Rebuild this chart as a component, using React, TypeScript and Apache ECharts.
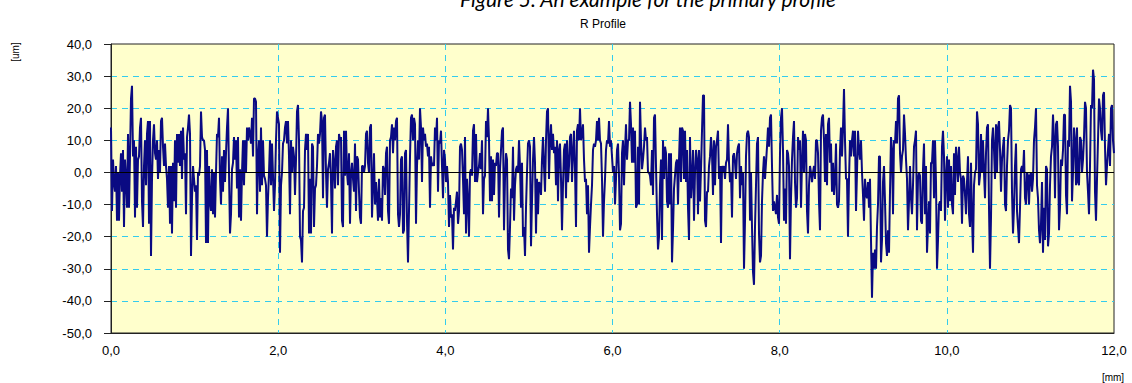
import React, { useEffect, useRef } from "react";
import * as echarts from "echarts";

const SEG_A = [14,-12,4,-3,-6,2,-15,0,-15,-1,6,-6,7,-17,4,-2,-11,12,-11,5,23,27,5,10,-14,8,-11,4,5,14,17,-9,-17,2,10,-4,12,16,-16,16,-26,-2,10,15,6,4,10,-2,7,0,16,17,8,2,9,2,-2,-11,2,-16,2,-19,3,-9,10,-11,12,3,12,2,13,-2,14,4,6,-13,11,14,18,12,-26,-8,2,-2];
const SEG_B = [-6,-4,-21,0,-1,2,19,11,10,10,7,-22,7,-22,2,-9,-12,1,-13,0,-14,0,12,11,17,-2,-10,5,-6,7,-3,6,14,20,0,-19,-13,1,3,11,4,10,-5,11,-14,1,-15,0,10,-4,10,0,14,10,14,12,9,17,5,23,23,22,-13,5,10,-6,14,-4,10,-1,-2,-4,-20,-8,0,10,-4,9,-1,-12,-4,10,19,17,15,-25,-4,0,9,10];
const SEG_C = [14,16,9,16,5,-13,10,0,8,5,-7,4,19,21,10,-20,-21,-28,-12,-11,7,12,7,12,-19,-2,-19,9,8,-17,-5,-4,2,12,9,12,19,16,-8,17,18,0,-11,1,3,6,-3,-19,7,3,-5,8,10,-4,12,10,11,-15,-17,13,-1,13,0,-4,6,-16,0,3,-2,-6,9,-12,5,4,-6,-14,-16,2,2,0,2,12,13,3,0,14,15,-14,-4,6];
const SEG_D = [-10,-3,-8,-15,-2,-14,-8,-15,2,1,-7,6,8,-12,-16,10,11,15,6,14,10,16,17,-13,-17,-13,4,5,-19,-18,6,7,-15,-28,-12,5,17,18,10,17,15,-16,2,10,4,20,14,-3,14,10,12,8,9,5,8,-11,5,2,3,2,14,10,17,-6,10,9,13,2,-8,7,4,-3,2,-3,-17,-7,-14,-13,-24,-11,-12,-9,-6,-16,-12,8,9,7,-2,-13];
const SEG_E = [11,-19,-2,-9,-20,0,1,-1,13,15,-3,12,-3,0,2,6,1,10,-13,-2,-1,16,11,20,10,-9,5,-9,4,-7,3,2,6,6,-14,1,7,13,14,-18,-2,6,4,-24,-27,-17,-5,-8,8,-15,-4,1,2,0,10,2,-11,3,-20,-17,-26,-11,0,9,10,8,-23,-9,4,11,3,-19,-2,-13,-3,-4,-7,4,11,2,-6,10,19,20,-2,10,15,7,12,6];
const SEG_F = [8,-4,10,-9,7,9,-2,-18,-4,7,9,-8,10,-3,2,11,12,-3,6,13,1,-17,13,15,10,20,10,12,15,4,-3,-2,-13,-4,-25,-17,-10,-4,7,9,8,10,16,10,17,10,9,-2,-20,-9,-2,7,10,9,16,8,10,5,0,2,-10,-2,7,9,-1,-18,-16,6,10,-4,7,15,4,10,10,22,15,3,14,3,13,-11,-10,8,-10,22,10,1,4,8];
const SEG_G = [14,10,11,0,0,-1,-4,7,-7,17,18,2,-13,-24,-20,-4,4,-21,10,-2,8,6,-9,-11,6,-10,6,-28,-18,-5,-1,3,4,-10,4,14,-3,14,13,-2,13,-3,7,-11,-21,11,-8,-2,7,-15,0,7,4,-13,7,-9,1,13,24,24,-15,-17,-6,-6,2,5,11,6,-7,10,-4,8,10,13,-2,2,-22,2,0,2,-2,3,4,15,3,-3,0,-14,5,6];
const SEG_H = [3,-2,6,8,9,-8,2,-4,0,-30,-15,5,12,13,11,-15,0,-17,-31,-35,-17,-4,9,11,-19,-28,-26,-9,0,5,-2,3,8,14,8,17,18,2,-12,-9,-11,-13,-7,-14,-16,6,17,20,7,-15,-5,-16,7,6,2,-27,-8,4,11,16,-3,-11,-8,11,7,10,-11,3,13,0,12,10,-12,-19,-4,2,0,-3,0,2,-2,10,10,6,-9,-18,13,17,18,10];
const SEG_I = [-3,12,-4,15,17,3,9,-6,3,-7,-2,9,-10,-11,-9,7,14,5,14,26,10,-2,-2,-20,-2,10,5,10,13,5,13,-12,0,13,7,4,10,0,-7,-15,-2,-7,-8,-3,-11,-2,-21,-39,-25,-30,-24,-30,-17,-10,5,5,-28,-21,-3,2,-9,-22,-26,-18,-25,-6,11,7,-13,10,9,16,9,23,24,6,0,5,7,18,12,4,-2,-18,-9,2,-8,-13,-4,8];
const SEG_J = [10,13,-18,-2,0,-1,-15,-16,1,9,-13,2,-25,-17,-9,-19,3,3,10,-8,10,-3,-30,-21,-10,-9,-12,8,13,5,-15,-1,5,-11,4,-9,2,-10,-13,6,-7,8,4,-3,8,0,-2,-16,-1,-2,-7,-13,-3,5,-13,-17,3,-14,-25,-4,0,1,19,15,-4,-1,12,0,10,0,-8,6,14,15,-11,-30,-14,10,14,7,-2,15,0,14,16,7,-6,4,8,11];
const SEG_K = [-10,-12,2,10,13,21,20,-6,-19,-11,2,9,-12,-17,-22,-11,1,2,0,7,-8,-10,0,-1,-10,-1,0,-6,-2,10,14,20,-4,-8,-18,-22,-16,-3,-25,-11,-21,2,1,-23,-19,-4,5,8,18,10,-8,15,16,8,-18,-11,4,2,7,18,18,-7,-13,10,8,27,22,-9,0,14,10,-4,14,-3,-4,11,10,0,4,11,22,20,0,-6,-13,2,21,20,32,29,-6,-15,-2,10,23,20,13,10,24,25,8,-4,2,7,12,2,20,21,10,6];

const X_TICKS = [0, 2, 4, 6, 8, 10, 12];
const Y_MIN = -50;
const Y_MAX = 40;
const TITLE = "Figure 5. An example for the primary profile";
const SUBTITLE = "R Profile";
const X_UNIT = "[mm]";
const Y_UNIT = "[um]";

const PROFILE = [
  ...SEG_A, ...SEG_B, ...SEG_C, ...SEG_D, ...SEG_E, ...SEG_F,
  ...SEG_G, ...SEG_H, ...SEG_I, ...SEG_J, ...SEG_K,
];
const X_MAX = X_TICKS[X_TICKS.length - 1];

const fmt = (v: number) => v.toFixed(1).replace(".", ",");

export default function App() {
  const ref = useRef<HTMLDivElement>(null);
  useEffect(() => {
    if (!ref.current) return;
    const chart = echarts.init(ref.current, null, { renderer: "svg" });
    const step = X_MAX / (PROFILE.length - 1);
    const data = PROFILE.map((v, i) => [i * step, v]);
    const labelFont = "Arial, 'Liberation Sans', sans-serif";
    const gridLine = {
      show: true,
      showMinLine: false,
      showMaxLine: false,
      lineStyle: { color: "#33CCEE", type: [6, 5], width: 1 },
    };
    chart.setOption({
      animation: false,
      backgroundColor: "#ffffff",
      grid: {
        left: 111,
        right: 18,
        top: 44,
        bottom: 50,
        show: true,
        backgroundColor: "#FFFFCC",
        borderColor: "#222222",
        borderWidth: 1,
      },
      graphic: [
        {
          type: "text",
          x: 648,
          y: -2,
          style: {
            text: TITLE,
            font: "italic 21px Lato, 'Open Sans', sans-serif",
            fill: "#000",
            textAlign: "center",
            textVerticalAlign: "middle",
          },
        },
        {
          type: "text",
          x: 603,
          y: 24,
          style: {
            text: SUBTITLE,
            font: `12px ${labelFont}`,
            fill: "#000",
            textAlign: "center",
            textVerticalAlign: "middle",
          },
        },
        {
          type: "text",
          x: 1113,
          y: 377,
          style: {
            text: X_UNIT,
            font: `10px ${labelFont}`,
            fill: "#000",
            textAlign: "center",
            textVerticalAlign: "middle",
          },
        },
        {
          type: "text",
          x: 15,
          y: 52,
          rotation: Math.PI / 2,
          style: {
            text: Y_UNIT,
            font: `10px ${labelFont}`,
            fill: "#000",
            textAlign: "center",
            textVerticalAlign: "middle",
          },
        },
      ],
      xAxis: {
        type: "value",
        min: 0,
        max: X_MAX,
        interval: X_TICKS[1] - X_TICKS[0],
        axisLine: { onZero: false, show: true, lineStyle: { color: "#222", width: 1 } },
        axisTick: { show: false },
        axisLabel: {
          formatter: fmt,
          color: "#000",
          fontSize: 13,
          fontFamily: labelFont,
          margin: 11,
        },
        splitLine: gridLine,
      },
      yAxis: {
        type: "value",
        min: Y_MIN,
        max: Y_MAX,
        interval: 10,
        axisLine: { show: true, lineStyle: { color: "#222", width: 1 } },
        axisTick: { show: true, length: 7, lineStyle: { color: "#222" } },
        axisLabel: {
          formatter: fmt,
          color: "#000",
          fontSize: 13,
          fontFamily: labelFont,
          margin: 19,
        },
        splitLine: gridLine,
      },
      series: [
        {
          type: "line",
          data,
          showSymbol: false,
          symbol: "none",
          lineStyle: { color: "#0a0a82", width: 2 },
          z: 3,
          markLine: {
            silent: true,
            symbol: "none",
            label: { show: false },
            lineStyle: { color: "#000", type: "solid", width: 1 },
            data: [{ yAxis: 0 }],
            z: 4,
          },
        },
      ],
    });
    return () => chart.dispose();
  }, []);
  return (
    <div
      ref={ref}
      style={{ position: "absolute", left: 0, top: 0, width: 1132, height: 383 }}
    />
  );
}
